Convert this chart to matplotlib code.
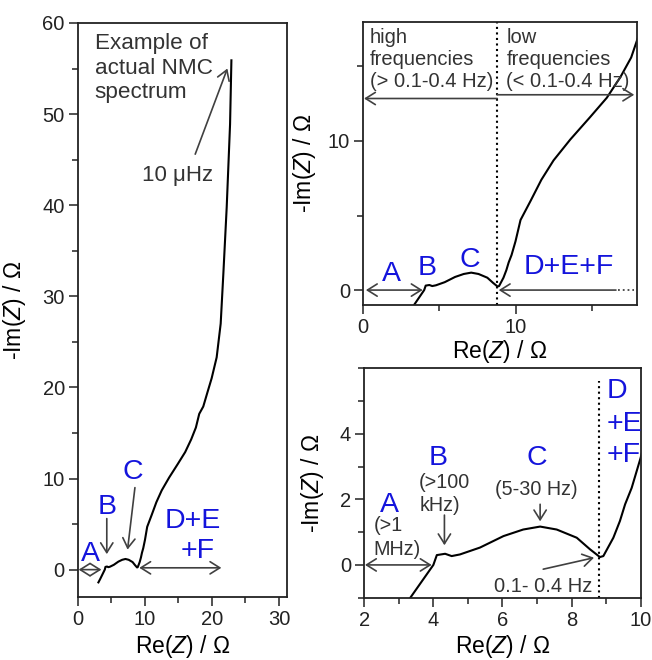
import matplotlib
matplotlib.use("Agg")
import matplotlib.pyplot as plt
from matplotlib.ticker import MultipleLocator

plt.rcParams['font.family'] = ['Liberation Sans', 'DejaVu Sans']
plt.rcParams['mathtext.fontset'] = 'custom'
plt.rcParams['mathtext.rm'] = 'Liberation Sans'
plt.rcParams['mathtext.it'] = 'Liberation Sans:italic'

# ---- data ----
re_z = [3.05, 3.32, 4.0, 4.1, 4.34, 4.53, 4.77, 5.35, 6.03, 6.6, 7.09, 7.57, 8.15,
        8.53, 8.82, 8.92, 9.21, 9.4, 9.55, 9.74, 10.0, 10.33, 11.0, 11.7, 12.5,
        13.6, 14.9, 16.0, 16.9, 17.6, 18.1, 18.7, 19.3, 19.95, 20.7, 21.3, 21.7,
        22.2, 22.7, 22.9]
im_z = [-1.4, -1.02, 0.0, 0.3, 0.34, 0.27, 0.32, 0.53, 0.88, 1.08, 1.17, 1.08, 0.83,
        0.48, 0.24, 0.27, 0.83, 1.34, 1.85, 2.35, 3.27, 4.7, 6.0, 7.4, 8.7,
        10.1, 11.6, 12.9, 14.3, 15.6, 17.1, 17.9, 19.4, 21.0, 23.3, 27.0, 32.5,
        39.8, 48.9, 55.9]
split_re = 8.8

left_xticks = [0, 10, 20, 30]
left_yticks = [0, 10, 20, 30, 40, 50, 60]
tr_xticks = [0, 10]
tr_yticks = [0, 10]
br_xticks = [2, 4, 6, 8, 10]
br_yticks = [0, 2, 4]

BLUE = '#1414dc'
GRAY = '#333333'
ACOL = '#404040'
TFS = 14.5
LFS = 16.5
BFS = 20.5
XLAB = 'Re($\\mathit{Z}$) / Ω'
YLAB = '-Im($\\mathit{Z}$) / Ω'

fig = plt.figure(figsize=(6.52, 6.60), dpi=100)
axL = fig.add_axes([0.1196, 0.0955, 0.3206, 0.8697])
axT = fig.add_axes([0.5572, 0.5379, 0.4202, 0.4292])
axB = fig.add_axes([0.5587, 0.0944, 0.4239, 0.3476])


def style(ax, xt, yt, xminor, yminor):
    for s in ax.spines.values():
        s.set_linewidth(1.3)
        s.set_color('#222222')
    ax.set_xticks(xt)
    ax.set_yticks(yt)
    ax.xaxis.set_minor_locator(MultipleLocator(xminor))
    ax.yaxis.set_minor_locator(MultipleLocator(yminor))
    ax.tick_params(which='major', direction='out', length=6.5, width=1.1,
                   labelsize=TFS, colors='#222222', pad=3)
    ax.tick_params(which='minor', direction='out', length=4, width=1.1,
                   colors='#222222')


def arrow(ax, xy_from, xy_to, style_='->'):
    ax.annotate('', xy=xy_to, xytext=xy_from,
                arrowprops=dict(arrowstyle=style_ + ',head_length=0.35,head_width=0.22',
                                color=ACOL, lw=1.2, mutation_scale=20,
                                shrinkA=0, shrinkB=0))


# ---- left panel ----
axL.plot(re_z, im_z, color='black', lw=1.5)
axL.set_xlim(0, 31.2)
axL.set_ylim(-3, 60)
style(axL, left_xticks, left_yticks, 5, 5)
axL.set_xlabel(XLAB, fontsize=LFS)
axL.set_ylabel(YLAB, fontsize=LFS)
axL.xaxis.set_label_coords(0.5, -0.0625)
axL.yaxis.set_label_coords(-0.24, 0.5)
axL.text(2.5, 58.9, 'Example of\nactual NMC\nspectrum', fontsize=16.2, color=GRAY,
         ha='left', va='top', linespacing=1.22)
axL.text(14.9, 43.3, '10 μHz', fontsize=16, color=GRAY, ha='center', va='center')
arrow(axL, (17.5, 45.6), (22.3, 55.0))
axL.text(1.9, 1.7, 'A', fontsize=BFS, color=BLUE, ha='center', va='center')
axL.text(4.3, 6.9, 'B', fontsize=BFS, color=BLUE, ha='center', va='center')
axL.text(8.2, 10.7, 'C', fontsize=BFS, color=BLUE, ha='center', va='center')
axL.text(17.2, 5.3, 'D+E', fontsize=BFS, color=BLUE, ha='center', va='center')
axL.text(17.8, 2.1, '+F', fontsize=BFS, color=BLUE, ha='center', va='center')
arrow(axL, (4.3, 5.6), (4.3, 1.7))
arrow(axL, (8.5, 9.0), (7.4, 2.2))
arrow(axL, (0.1, 0.0), (3.5, 0.0), '<->')
arrow(axL, (9.15, 0.2), (21.4, 0.2), '<->')

# ---- top-right panel ----
axT.plot(re_z, im_z, color='black', lw=1.5)
axT.set_xlim(0, 18)
axT.set_ylim(-1, 18)
style(axT, tr_xticks, tr_yticks, 5, 5)
axT.set_xlabel(XLAB, fontsize=LFS)
axT.set_ylabel(YLAB, fontsize=LFS)
axT.xaxis.set_label_coords(0.5, -0.118)
axT.yaxis.set_label_coords(-0.165, 0.5)
axT.axvline(split_re, color='black', ls=':', lw=1.5)
axT.text(0.44, 17.55, 'high\nfrequencies\n(> 0.1-0.4 Hz)', fontsize=14.5, color=GRAY,
         ha='left', va='top', linespacing=1.2)
axT.text(9.4, 17.55, 'low\nfrequencies\n(< 0.1-0.4 Hz)', fontsize=14.5, color=GRAY,
         ha='left', va='top', linespacing=1.2)
arrow(axT, (split_re, 12.85), (0.05, 12.85))
arrow(axT, (split_re, 13.1), (17.8, 13.1))
axT.text(1.83, 1.07, 'A', fontsize=BFS, color=BLUE, ha='center', va='center')
axT.text(4.18, 1.47, 'B', fontsize=BFS, color=BLUE, ha='center', va='center')
axT.text(6.97, 2.03, 'C', fontsize=BFS, color=BLUE, ha='center', va='center')
axT.text(13.5, 1.56, 'D+E+F', fontsize=BFS, color=BLUE, ha='center', va='center')
arrow(axT, (0.17, 0.0), (3.9, 0.0), '<->')
arrow(axT, (16.6, 0.0), (8.9, 0.0))
axT.plot([16.75, 17.8], [0.0, 0.0], color=ACOL, ls=':', lw=1.3)

# ---- bottom-right panel ----
axB.plot(re_z, im_z, color='black', lw=1.5)
axB.set_xlim(2, 10)
axB.set_ylim(-1, 6)
style(axB, br_xticks, br_yticks, 1, 1)
axB.set_xlabel(XLAB, fontsize=LFS)
axB.set_ylabel(YLAB, fontsize=LFS)
axB.xaxis.set_label_coords(0.5, -0.152)
axB.yaxis.set_label_coords(-0.14, 0.5)
axB.plot([split_re, split_re], [-1, 5.6], color='black', ls=':', lw=1.5)
axB.text(2.74, 1.83, 'A', fontsize=BFS, color=BLUE, ha='center', va='center')
axB.text(2.26, 0.835, '(>1\nMHz)', fontsize=14.2, color=GRAY, ha='left', va='center',
         linespacing=1.3)
arrow(axB, (2.02, 0.0), (3.95, 0.0), '<->')
axB.text(4.15, 3.25, 'B', fontsize=BFS, color=BLUE, ha='center', va='center')
axB.text(3.59, 2.175, '(>100\nkHz)', fontsize=14.2, color=GRAY, ha='left', va='center',
         linespacing=1.25)
arrow(axB, (4.32, 1.52), (4.32, 0.6))
axB.text(6.99, 3.25, 'C', fontsize=BFS, color=BLUE, ha='center', va='center')
axB.text(6.99, 2.3, '(5-30 Hz)', fontsize=14.2, color=GRAY, ha='center', va='center')
arrow(axB, (7.09, 1.85), (7.09, 1.33))
axB.text(7.18, -0.67, '0.1- 0.4 Hz', fontsize=14.5, color=GRAY, ha='center', va='center')
arrow(axB, (7.18, -0.13), (8.65, 0.22))
axB.text(9.02, 5.31, 'D', fontsize=BFS, color=BLUE, ha='left', va='center')
axB.text(9.02, 4.3, '+E', fontsize=BFS, color=BLUE, ha='left', va='center')
axB.text(9.02, 3.34, '+F', fontsize=BFS, color=BLUE, ha='left', va='center')

fig.savefig('out.png', dpi=100)
